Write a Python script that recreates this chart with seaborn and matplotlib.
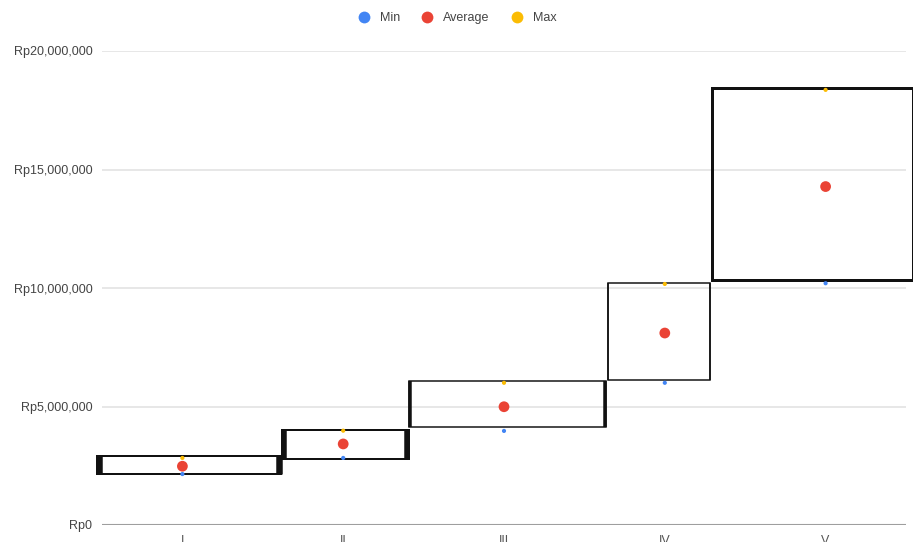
import matplotlib
matplotlib.use("Agg")
import matplotlib.pyplot as plt
from matplotlib.patches import Rectangle
from matplotlib.lines import Line2D
import seaborn as sns
import pandas as pd

categories = ["I", "II", "III", "IV", "V"]
min_vals = [2150000, 2830000, 3970000, 6000000, 10200000]
avg_vals = [2480000, 3420000, 4990000, 8100000, 14280000]
max_vals = [2830000, 3980000, 6000000, 10170000, 18360000]
box_low = [2160000, 2800000, 4120000, 6120000, 10340000]
box_high = [2920000, 4020000, 6090000, 10210000, 18440000]
y_ticks = [0, 5000000, 10000000, 15000000, 20000000]

# layout (category-unit x extents of boxes, edge widths in px)
box_x0 = [-0.53, 0.619, 1.409, 2.647, 3.294]
box_x1 = [0.613, 1.409, 2.634, 3.281, 4.544]
side_w = [6.5, 5.5, 3.5, 1.5, 3]
tb_w = [2, 2, 1.5, 1.5, 3]

sns.set_theme(style="white")
plt.rcParams["font.family"] = ["Liberation Sans", "DejaVu Sans"]

df = pd.DataFrame({
    "cat": categories * 3,
    "value": min_vals + avg_vals + max_vals,
    "stat": ["Min"] * 5 + ["Average"] * 5 + ["Max"] * 5,
})
palette = {"Min": "#4285F4", "Average": "#EA4335", "Max": "#FBBC04"}

fig = plt.figure(figsize=(9.13, 5.42), dpi=100)
ax_w_px = 906 - 102
ax = fig.add_axes([102 / 913, 17 / 542, ax_w_px / 913, (525 - 51) / 542])
unit_px = ax_w_px / 5.0

px = 0.72
for i in range(len(categories)):
    x0, x1 = box_x0[i], box_x1[i]
    lo, hi = box_low[i], box_high[i]
    ax.add_patch(Rectangle((x0, lo), x1 - x0, hi - lo, fill=False,
                           edgecolor="#111111", linewidth=tb_w[i] * px,
                           clip_on=False, zorder=3))
    inset = (side_w[i] - tb_w[i]) / 2.0 / unit_px
    for xe in (x0 + inset, x1 - inset):
        ax.plot([xe, xe], [lo, hi], color="#111111", linewidth=side_w[i] * px,
                solid_capstyle="butt", clip_on=False, zorder=3)

sns.scatterplot(data=df, x="cat", y="value", hue="stat", size="stat",
                sizes={"Min": 9, "Average": 60, "Max": 9},
                palette=palette, linewidth=0, ax=ax, legend=False, zorder=4)

ax.set_xlim(-0.5, 4.5)
ax.set_ylim(0, 20000000)
ax.set_yticks(y_ticks)
ax.set_yticklabels([f"Rp{v:,.0f}" for v in y_ticks])
ax.set_xticks(range(len(categories)))
ax.set_xticklabels(categories)
ax.set_xlabel("")
ax.set_ylabel("")
for v in y_ticks[1:]:
    ax.axhline(v, color="#e3e3e3", linewidth=1.2, zorder=0)
ax.axhline(0, color="#9e9e9e", linewidth=1.5, zorder=1)
for s in ax.spines.values():
    s.set_visible(False)
ax.tick_params(axis="y", length=0, pad=7, labelsize=9, labelcolor="#444444")
ax.tick_params(axis="x", length=0, pad=7, labelsize=9, labelcolor="#555555")

handles = [Line2D([0], [0], marker="o", linestyle="", markersize=8.5,
                  markerfacecolor=palette[k], markeredgewidth=0, label=k)
           for k in ["Min", "Average", "Max"]]
fig.legend(handles=handles, loc="center", bbox_to_anchor=(0.497, 1 - 18 / 542),
           ncol=3, frameon=False, fontsize=9, handletextpad=0.3,
           columnspacing=1.15, labelcolor="#444444")

fig.savefig("out.png", dpi=100)
